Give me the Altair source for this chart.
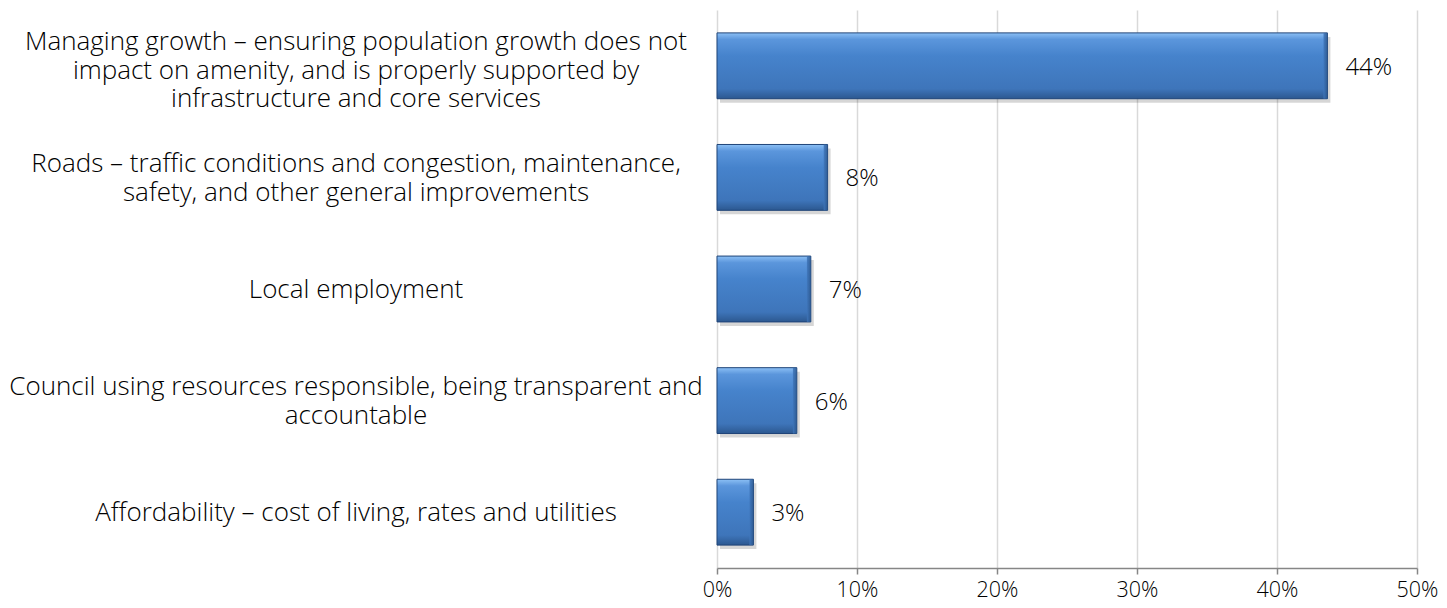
import altair as alt
import pandas as pd

categories = [
    "Managing growth – ensuring population growth does not|impact on amenity, and is properly supported by|infrastructure and core services",
    "Roads – traffic conditions and congestion, maintenance,|safety, and other general improvements",
    "Local employment",
    "Council using resources responsible, being transparent and|accountable",
    "Affordability – cost of living, rates and utilities",
]
values = [43.6, 7.9, 6.7, 5.7, 2.6]
tick_values = [0, 10, 20, 30, 40, 50]

df = pd.DataFrame({"cat": categories, "val": values})
df["label"] = [f"{round(v):.0f}%" for v in values]
df["nlines"] = [c.count("|") + 1 for c in categories]

FONT = "Open Sans"
LH = 28.5

y_enc = alt.Y(
    "cat:N",
    sort=categories,
    scale=alt.Scale(paddingInner=0.41, paddingOuter=0.205),
    axis=alt.Axis(title=None, domain=False, ticks=False, labels=False, grid=False),
)

x_enc = alt.X(
    "val:Q",
    scale=alt.Scale(domain=[0, 50], nice=False),
    axis=alt.Axis(
        title=None,
        values=tick_values,
        labelExpr="datum.value + '%'",
        labelFont=FONT,
        labelFontSize=21.5,
        labelFontWeight=300,
        labelColor="#000000",
        labelPadding=5,
        labelFlush=False,
        domainColor="#868686",
        domainWidth=1.5,
        tickColor="#868686",
        tickSize=6,
        tickWidth=1.5,
        grid=True,
        gridColor="#d9d9d9",
        gridWidth=1.5,
    ),
)

base = alt.Chart(df)

shadow = base.mark_bar(
    color="#000000", opacity=0.16, xOffset=3, yOffset=4
).encode(y=y_enc, x=x_enc)

bars = base.mark_bar(
    color=alt.Gradient(
        gradient="linear",
        x1=0, x2=0, y1=0, y2=1,
        stops=[
            alt.GradientStop(color="#8cc0f5", offset=0),
            alt.GradientStop(color="#5b96dc", offset=0.1),
            alt.GradientStop(color="#4683cc", offset=0.35),
            alt.GradientStop(color="#3e75ba", offset=0.85),
            alt.GradientStop(color="#2c5890", offset=1),
        ],
    ),
    stroke="#1f4478",
    strokeWidth=1,
).encode(y=y_enc, x=x_enc)

bevel = base.transform_calculate(x0="datum.val - 0.28").mark_bar(
    color=alt.Gradient(
        gradient="linear",
        x1=0, x2=1, y1=0, y2=0,
        stops=[
            alt.GradientStop(color="#3f76bb", offset=0),
            alt.GradientStop(color="#2b568c", offset=1),
        ],
    ),
    opacity=0.85,
).encode(y=y_enc, x=alt.X("x0:Q"), x2="val:Q")

values_text = base.mark_text(
    align="left", baseline="middle", dx=18, dy=2, font=FONT, fontSize=24,
    fontWeight=300, color="#000000"
).encode(y=alt.Y("cat:N", sort=categories), x=alt.X("val:Q"), text="label:N")

cat_layers = []
for n, extra in [(1, 1), (2, 1), (3, 5)]:
    cat_layers.append(
        base.transform_filter(alt.datum.nlines == n)
        .mark_text(
            align="center", baseline="middle", lineBreak="|", lineHeight=LH,
            dy=-(n - 1) * LH / 2 + extra, font=FONT, fontSize=26,
            fontWeight=300, color="#000000"
        )
        .encode(y=alt.Y("cat:N", sort=categories), x=alt.value(-361), text="cat:N")
    )

chart = (
    alt.layer(shadow, bars, bevel, values_text, *cat_layers)
    .properties(
        width=700,
        height=558,
        autosize=alt.AutoSizeParams(type="none"),
        padding={"left": 709, "top": 2, "right": 22, "bottom": 32},
    )
    .configure_view(stroke=None)
)

chart.save("out.html", embed_options={"renderer": "svg", "actions": False})
